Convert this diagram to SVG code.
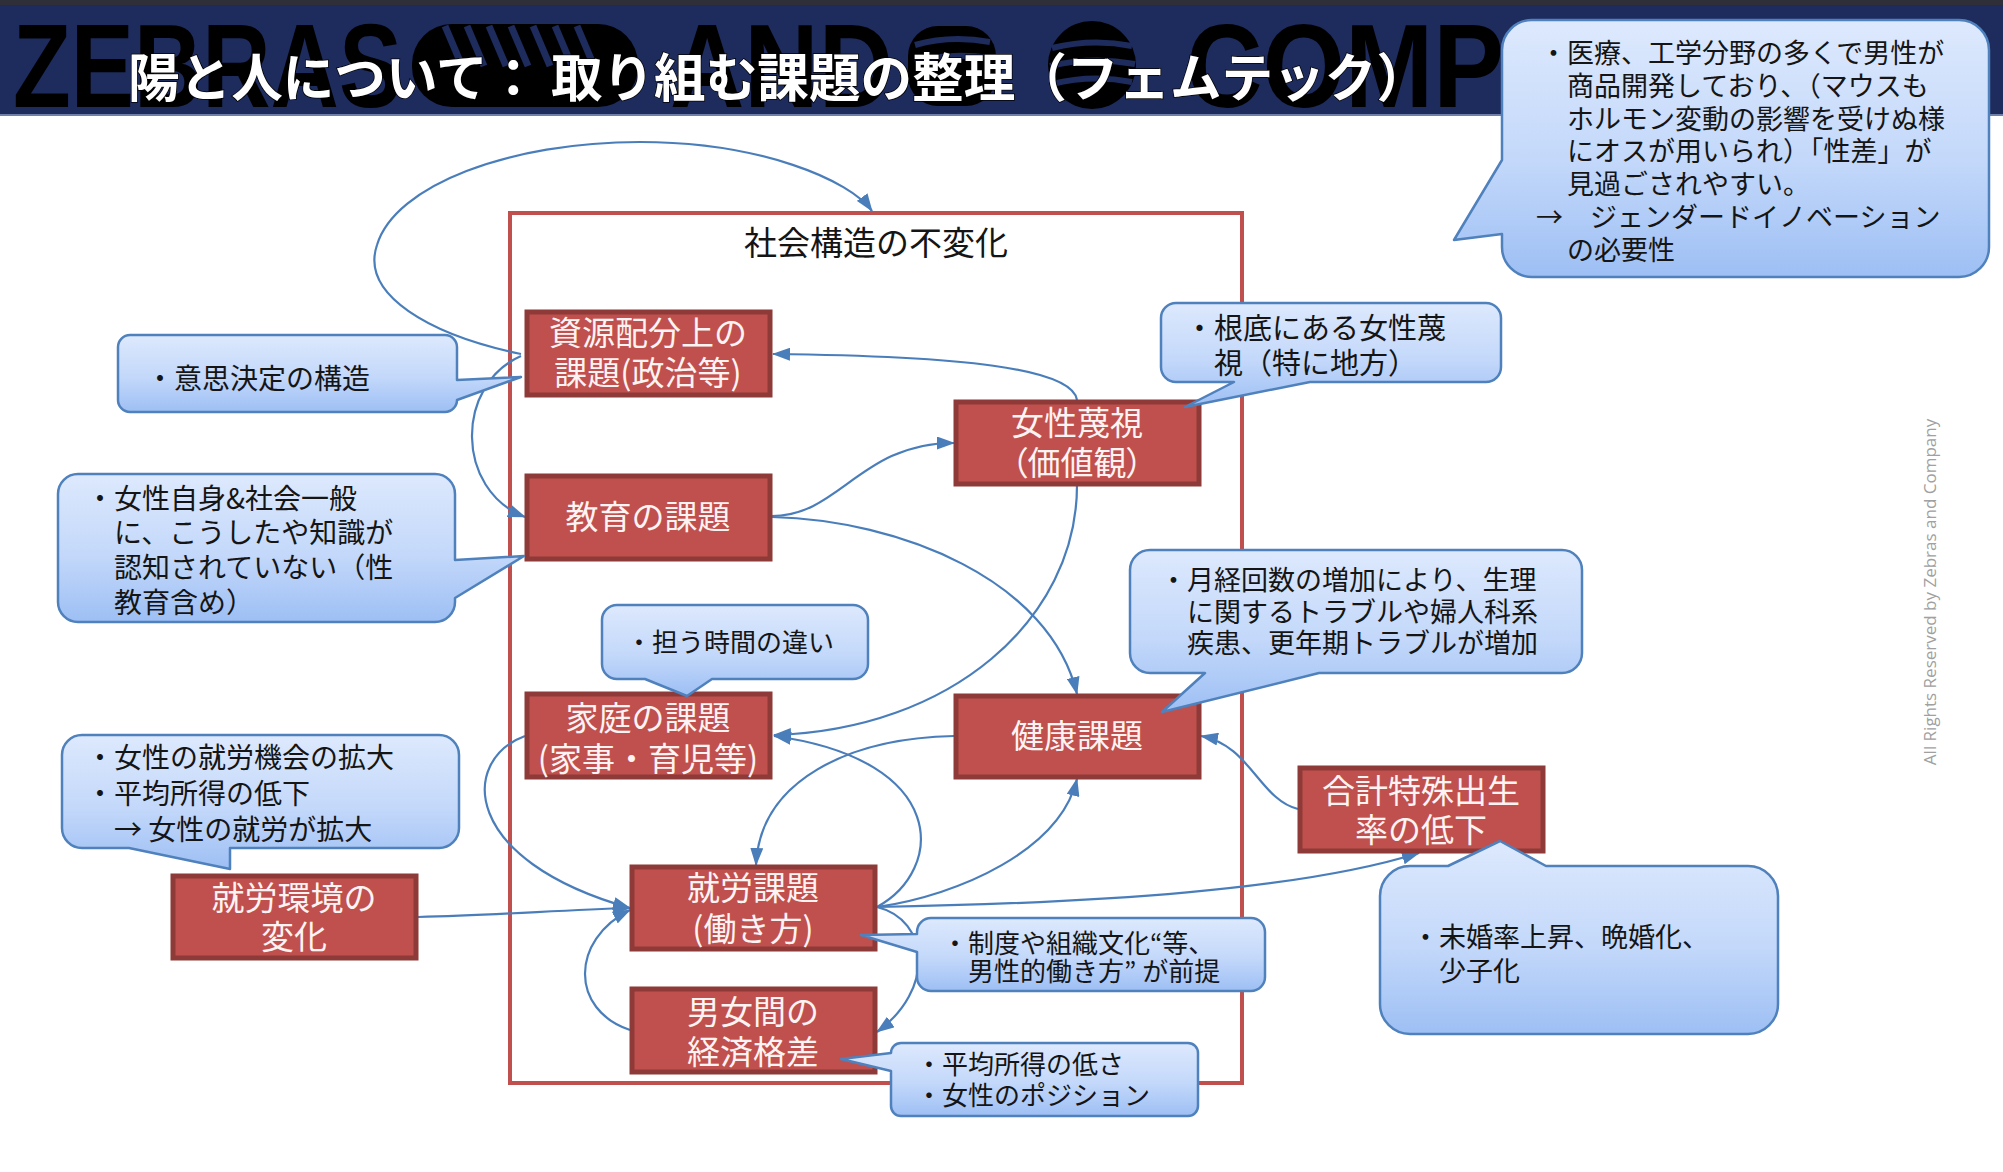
<svg xmlns="http://www.w3.org/2000/svg" width="2003" height="1172" viewBox="0 0 2003 1172">
<defs>
<style>
.cj{font-family:"Noto Sans CJK JP","Noto Sans",sans-serif;}
.nd rect{fill:#c0504d;stroke:#8e3a38;stroke-width:5;}
.nd text{fill:#fdf3f3;font-size:33px;text-anchor:middle;font-family:"Noto Sans CJK JP","Noto Sans",sans-serif;}
.co path{fill:url(#cg);stroke:#4f81bd;stroke-width:2.5;stroke-linejoin:round;}
.co text{fill:#151515;font-family:"Noto Sans CJK JP","Noto Sans",sans-serif;}
.cn path{fill:none;stroke:#4a7ebb;stroke-width:2.2;marker-end:url(#ah);}
.wm{font-family:"Liberation Sans",Arial,sans-serif;font-weight:bold;font-size:119px;fill:#000;}
</style>
<linearGradient id="cg" x1="0" y1="0" x2="0" y2="1">
<stop offset="0" stop-color="#dde9fd"/>
<stop offset="0.55" stop-color="#c3d8fa"/>
<stop offset="1" stop-color="#9dbff4"/>
</linearGradient>
<marker id="ah" markerUnits="userSpaceOnUse" viewBox="0 0 18 13" refX="17" refY="6.5" markerWidth="18" markerHeight="13" orient="auto">
<path d="M0,0 L18,6.5 L0,13 Z" fill="#4a7ebb"/>
</marker>
</defs>
<rect width="2003" height="1172" fill="#ffffff"/>

<g id="header">
<rect x="0" y="0" width="2003" height="116" fill="#1e2b5d"/>
<rect x="0" y="0" width="2003" height="5" fill="#2e2f38"/>
<line x1="0" y1="115" x2="2003" y2="115" stroke="#7080aa" stroke-width="2"/>
<text class="wm" x="13" y="107" textLength="389" lengthAdjust="spacingAndGlyphs">ZEBRAS</text>
<rect x="412" y="24" width="226" height="83" rx="40" fill="#000"/>
<g stroke="#1e2b5d" stroke-width="7">
<line x1="445" y1="26" x2="462" y2="66"/><line x1="467" y1="26" x2="484" y2="66"/><line x1="489" y1="26" x2="506" y2="66"/><line x1="511" y1="26" x2="528" y2="66"/><line x1="533" y1="26" x2="550" y2="66"/><line x1="555" y1="26" x2="572" y2="66"/><line x1="577" y1="26" x2="594" y2="66"/>
</g>
<text class="wm" x="670" y="107" textLength="223" lengthAdjust="spacingAndGlyphs">AND</text>
<rect x="908" y="26" width="88" height="80" rx="30" fill="#000"/>
<circle cx="1092" cy="65" r="44" fill="#000"/>
<g stroke="#1e2b5d" stroke-width="6" fill="none">
<path d="M915,45 Q950,35 990,42"/><path d="M915,62 Q950,52 990,58"/><path d="M1052,48 Q1092,38 1132,46"/><path d="M1050,66 Q1092,56 1135,64"/><path d="M1052,84 Q1092,74 1132,82"/>
</g>
<text class="wm" x="1186" y="107" textLength="318" lengthAdjust="spacingAndGlyphs">COMP</text>
<text class="cj" x="128" y="97" font-size="52" font-weight="bold" fill="#ffffff" stroke="#000" stroke-width="1.5" paint-order="stroke" textLength="1300" lengthAdjust="spacingAndGlyphs">陽と人について： 取り組む課題の整理（フェムテック）</text>
</g>

<g id="frame">
<rect x="510" y="213" width="732" height="870" fill="none" stroke="#c0504d" stroke-width="4"/>
<text class="cj" x="876" y="255" font-size="33" text-anchor="middle" fill="#151515">社会構造の不変化</text>
</g>

<g id="connectors" class="cn">
<path d="M521,354 C430,335 360,295 377,245 C395,185 510,142 640,142 C760,142 850,180 872,211"/>
<path d="M521,356 C455,385 455,490 525,517"/>
<path d="M772,516 C840,516 860,443 954,443"/>
<path d="M1077,400 C1072,368 960,356 773,354"/>
<path d="M772,517 C900,520 1050,580 1077,694"/>
<path d="M1077,485 C1077,620 950,730 774,735"/>
<path d="M954,736 C850,738 760,780 756,865"/>
<path d="M877,907 C945,870 950,760 774,736"/>
<path d="M877,907 C960,895 1060,850 1077,779"/>
<path d="M877,907 C1100,903 1300,890 1419,853"/>
<path d="M877,907 C930,920 935,990 877,1032"/>
<path d="M525,736 C460,760 460,860 630,908"/>
<path d="M418,917 C500,915 560,910 630,908"/>
<path d="M630,1030 C570,1010 570,940 630,910"/>
<path d="M1298,809 C1260,800 1250,745 1201,736"/>
</g>

<g id="node-shigen" class="nd"><rect x="527" y="312" width="243" height="83"/><text x="648" y="345">資源配分上の</text><text x="648" y="385">課題(政治等)</text></g>
<g id="node-kyoiku" class="nd"><rect x="527" y="476" width="243" height="83"/><text x="648" y="529">教育の課題</text></g>
<g id="node-besshi" class="nd"><rect x="956" y="402" width="243" height="82"/><text x="1077" y="435">女性蔑視</text><text x="1077" y="475" style="font-feature-settings:'palt'">（価値観）</text></g>
<g id="node-katei" class="nd"><rect x="527" y="694" width="243" height="83"/><text x="648" y="730">家庭の課題</text><text x="648" y="771">(家事・育児等)</text></g>
<g id="node-kenko" class="nd"><rect x="956" y="696" width="243" height="81"/><text x="1077" y="748">健康課題</text></g>
<g id="node-shuro" class="nd"><rect x="632" y="867" width="243" height="82"/><text x="753" y="900">就労課題</text><text x="753" y="941">(働き方)</text></g>
<g id="node-kakusa" class="nd"><rect x="632" y="989" width="243" height="83"/><text x="753" y="1024">男女間の</text><text x="753" y="1064">経済格差</text></g>
<g id="node-kankyo" class="nd"><rect x="173" y="876" width="243" height="82"/><text x="294" y="910">就労環境の</text><text x="294" y="949">変化</text></g>
<g id="node-shussei" class="nd"><rect x="1300" y="768" width="243" height="83"/><text x="1421" y="803">合計特殊出生</text><text x="1421" y="842">率の低下</text></g>

<g id="callout-femtech" class="co">
<path d="M1532,20 H1959 A30 30 0 0 1 1989,50 V247 A30 30 0 0 1 1959,277 H1532 A30 30 0 0 1 1502,247 V234 L1454,240 L1502,160 V50 A30 30 0 0 1 1532,20 Z"/>
<g font-size="27">
<text x="1540" y="63">・医療、工学分野の多くで男性が</text>
<text x="1567" y="96">商品開発しており、（マウスも</text>
<text x="1567" y="129">ホルモン変動の影響を受けぬ様</text>
<text x="1567" y="161">にオスが用いられ）「性差」が</text>
<text x="1567" y="194">見過ごされやすい。</text>
<text x="1536" y="227">→　ジェンダードイノベーション</text>
<text x="1567" y="260">の必要性</text>
</g>
</g>
<g id="callout-ishikettei" class="co">
<path d="M130,335 H445 A12 12 0 0 1 457,347 V380 L521,377 L457,400 A12 12 0 0 1 445,412 H130 A12 12 0 0 1 118,400 V347 A12 12 0 0 1 130,335 Z"/>
<text x="146" y="389" font-size="28">・意思決定の構造</text>
</g>
<g id="callout-ninchi" class="co">
<path d="M78,474 H435 A20 20 0 0 1 455,494 V560 L524,556 L455,598 V602 A20 20 0 0 1 435,622 H78 A20 20 0 0 1 58,602 V494 A20 20 0 0 1 78,474 Z"/>
<g font-size="28">
<text x="86" y="509">・女性自身&amp;社会一般</text>
<text x="114" y="543">に、こうしたや知識が</text>
<text x="114" y="578">認知されていない（性</text>
<text x="114" y="613">教育含め）</text>
</g>
</g>
<g id="callout-konttei" class="co">
<path d="M1176,303 H1486 A15 15 0 0 1 1501,318 V367 A15 15 0 0 1 1486,382 H1310 L1185,407 L1234,382 H1176 A15 15 0 0 1 1161,367 V318 A15 15 0 0 1 1176,303 Z"/>
<g font-size="29">
<text x="1185" y="339">・根底にある女性蔑</text>
<text x="1214" y="374">視（特に地方）</text>
</g>
</g>
<g id="callout-gekkei" class="co">
<path d="M1150,550 H1562 A20 20 0 0 1 1582,570 V653 A20 20 0 0 1 1562,673 H1319 L1162,712 L1205,673 H1150 A20 20 0 0 1 1130,653 V570 A20 20 0 0 1 1150,550 Z"/>
<g font-size="27">
<text x="1160" y="590">・月経回数の増加により、生理</text>
<text x="1187" y="622">に関するトラブルや婦人科系</text>
<text x="1187" y="653">疾患、更年期トラブルが増加</text>
</g>
</g>
<g id="callout-jikan" class="co">
<path d="M617,605 H853 A15 15 0 0 1 868,620 V664 A15 15 0 0 1 853,679 H712 L687,696 L645,679 H617 A15 15 0 0 1 602,664 V620 A15 15 0 0 1 617,605 Z"/>
<text x="626" y="652" font-size="26">・担う時間の違い</text>
</g>
<g id="callout-shuro-kikai" class="co">
<path d="M82,735 H439 A20 20 0 0 1 459,755 V828 A20 20 0 0 1 439,848 H230 L230,869 L129,848 H82 A20 20 0 0 1 62,828 V755 A20 20 0 0 1 82,735 Z"/>
<g font-size="28">
<text x="86" y="768">・女性の就労機会の拡大</text>
<text x="86" y="804">・平均所得の低下</text>
<text x="114" y="840">→ 女性の就労が拡大</text>
</g>
</g>
<g id="callout-seido" class="co">
<path d="M931,918 H1251 A14 14 0 0 1 1265,932 V977 A14 14 0 0 1 1251,991 H931 A14 14 0 0 1 917,977 V952 L861,935 L917,934 V932 A14 14 0 0 1 931,918 Z"/>
<g font-size="26">
<text x="942" y="953">・制度や組織文化“等、</text>
<text x="968" y="981">男性的働き方” が前提</text>
</g>
</g>
<g id="callout-shotoku" class="co">
<path d="M901,1043 H1188 A10 10 0 0 1 1198,1053 V1106 A10 10 0 0 1 1188,1116 H901 A10 10 0 0 1 891,1106 V1071 L841,1059 L891,1053 A10 10 0 0 1 901,1043 Z"/>
<g font-size="26">
<text x="916" y="1074">・平均所得の低さ</text>
<text x="916" y="1105">・女性のポジション</text>
</g>
</g>
<g id="callout-mikon" class="co">
<path d="M1410,866 H1448 L1500,841 L1546,866 H1748 A30 30 0 0 1 1778,896 V1004 A30 30 0 0 1 1748,1034 H1410 A30 30 0 0 1 1380,1004 V896 A30 30 0 0 1 1410,866 Z"/>
<g font-size="27">
<text x="1412" y="947">・未婚率上昇、晩婚化、</text>
<text x="1439" y="981">少子化</text>
</g>
</g>

<text transform="translate(1936,592) rotate(-90)" text-anchor="middle" font-family="'Open Sans','Liberation Sans',sans-serif" font-size="17" fill="#a0a0a0">All Rights Reserved by Zebras and Company</text>
</svg>
